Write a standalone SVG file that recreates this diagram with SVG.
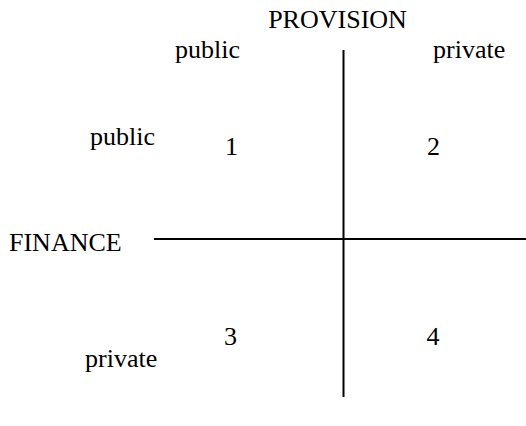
<svg xmlns="http://www.w3.org/2000/svg" width="526" height="426" viewBox="0 0 526 426">
<style>
text{font-family:"Liberation Serif","Times New Roman",serif;font-size:26px;fill:#000}
.ax{stroke:#000;stroke-width:2;fill:none}
</style>
<rect width="526" height="426" fill="#fff"/>
<g id="connectors">
<line class="ax" x1="343.5" y1="50" x2="343.5" y2="397"/>
<line class="ax" x1="154" y1="239" x2="526" y2="239"/>
</g>
<g id="provision"><text x="337.5" y="28" text-anchor="middle">PROVISION</text></g>
<g id="prov-public"><text x="175" y="58">public</text></g>
<g id="prov-private"><text x="433" y="58">private</text></g>
<g id="finance"><text x="9" y="251">FINANCE</text></g>
<g id="fin-public"><text x="90" y="145">public</text></g>
<g id="fin-private"><text x="85" y="367">private</text></g>
<g id="q1"><text x="231.5" y="155" text-anchor="middle">1</text></g>
<g id="q2"><text x="433.5" y="155" text-anchor="middle">2</text></g>
<g id="q3"><text x="230.5" y="345" text-anchor="middle">3</text></g>
<g id="q4"><text x="433" y="345" text-anchor="middle">4</text></g>
</svg>
